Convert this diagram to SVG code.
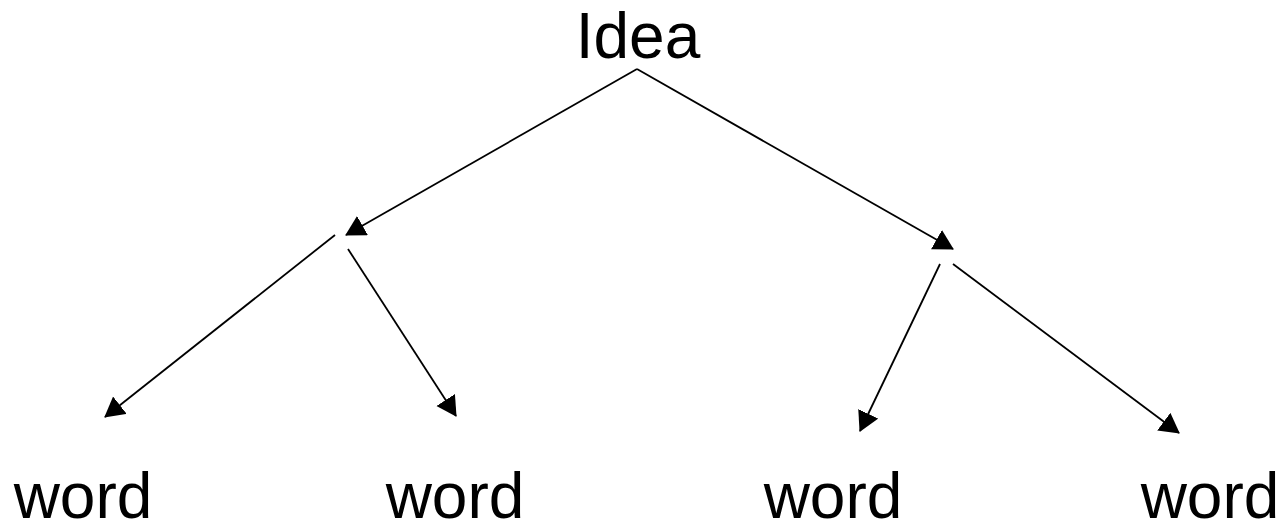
<svg xmlns="http://www.w3.org/2000/svg" width="1281" height="525" viewBox="0 0 1281 525">
<style>
.t{font-family:"Liberation Sans",Arial,sans-serif;font-size:64px;fill:#000;text-anchor:middle}
.c{stroke:#000;stroke-width:1.8;fill:none;marker-end:url(#ah)}
</style>
<defs>
<marker id="ah" markerUnits="userSpaceOnUse" markerWidth="22" markerHeight="24" refX="19" refY="11" orient="auto" viewBox="0 0 22 24">
<path d="M0,0 L20,11 L0,22 z" fill="#000"/>
</marker>
</defs>
<rect width="1281" height="525" fill="#fff"/>
<g id="connectors">
<path class="c" d="M637,69 L346,235"/>
<path class="c" d="M637,69 L953,249"/>
<path class="c" d="M335,235 L105,417"/>
<path class="c" d="M348,249 L456,416"/>
<path class="c" d="M940,264 L860,431"/>
<path class="c" d="M953,264 L1179,433"/>
</g>
<g id="idea"><text class="t" x="638" y="58">Idea</text></g>
<g id="word1"><text class="t" x="83" y="518">word</text></g>
<g id="word2"><text class="t" x="455" y="518">word</text></g>
<g id="word3"><text class="t" x="833" y="518">word</text></g>
<g id="word4"><text class="t" x="1210" y="518">word</text></g>
</svg>
